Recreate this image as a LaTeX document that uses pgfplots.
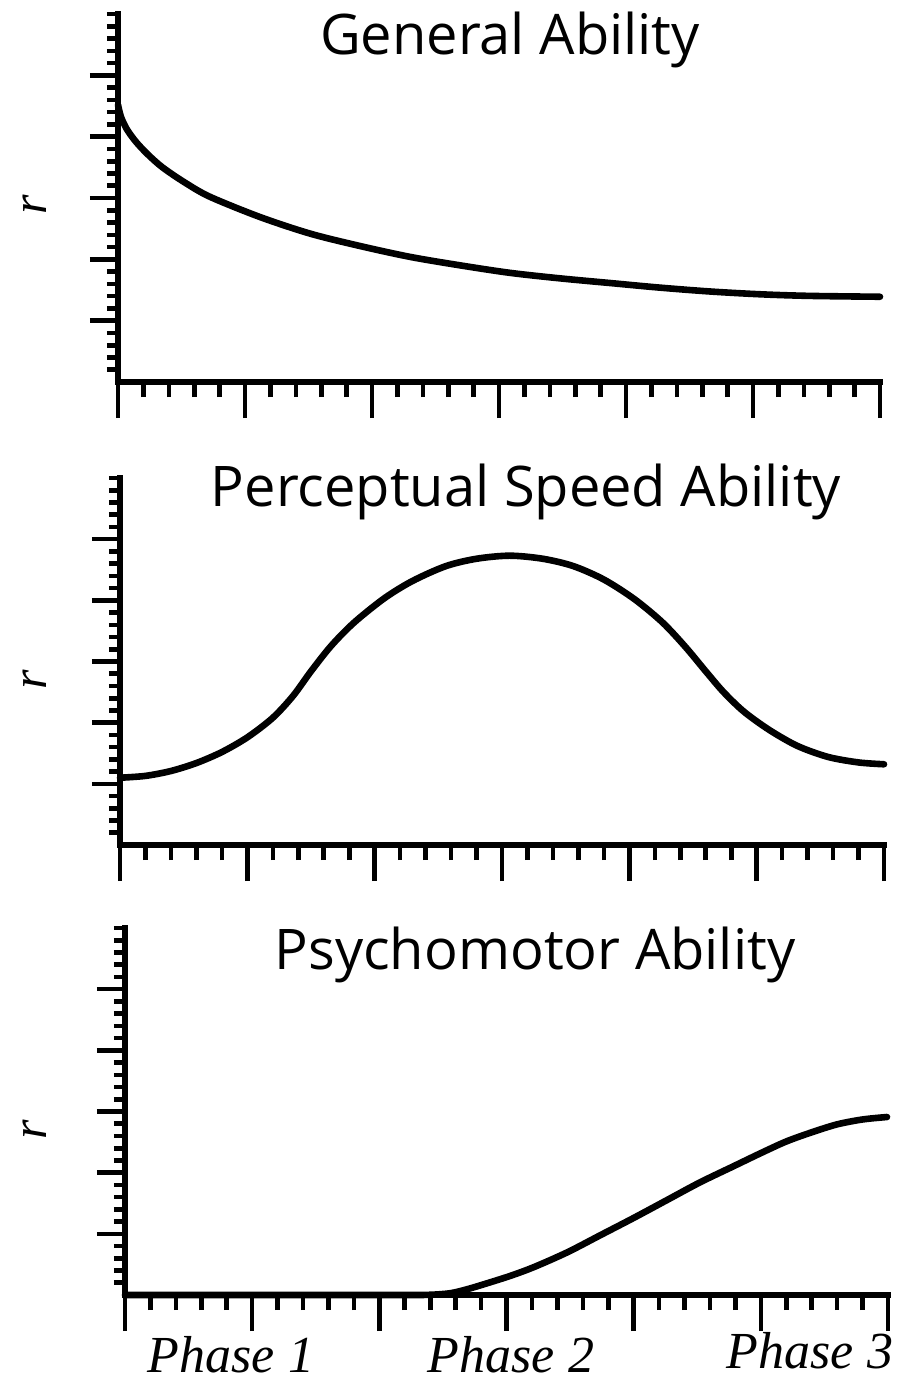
\documentclass[border=0pt]{standalone}
\usepackage{pgfplots}
\pgfplotsset{compat=1.18}
\usepackage{fontspec}
\setmainfont{Open Sans}
\newfontfamily\phasefont{Liberation Serif}

% shared look of the three panels: only left and bottom axis lines,
% outside ticks, no tick labels
\pgfplotsset{
  panel/.style={
    scale only axis,
    anchor=south west,
    axis lines*=left,
    axis line style={line width=2.8pt, line cap=rect},
    xmin=0, xmax=30, ymin=0, ymax=30,
    xtick={0,5,...,30},
    minor xtick={1,...,29},
    ytick={5,10,15,20,25},
    minor ytick={1,...,30},
    xticklabels={}, yticklabels={},
    tick align=outside,
    major tick length=15pt,
    minor tick length=6.5pt,
    every tick/.style={black, line width=2.3pt},
    x tick style={/pgfplots/major tick length=18pt, /pgfplots/minor tick length=7.5pt},
    y tick style={/pgfplots/major tick length=14pt, /pgfplots/minor tick length=5.5pt},
    clip=false,
  },
  curve/.style={black, line width=3.3pt, smooth, line cap=round},
}

\begin{document}
\begin{tikzpicture}
\path[use as bounding box] (0pt,0pt) rectangle (457pt,-693.5pt);

% General Ability
\begin{axis}[panel, at={(59pt,-191pt)}, width=381pt, height=184pt]
\addplot[curve] coordinates {
  (0,22.6) (0.12,21.6) (0.35,20.6) (0.7,19.6) (1.15,18.6) (1.75,17.5)
  (2.64,16.25) (3.62,15.1) (5.59,13.45) (7.56,12.1) (9.5,11.1)
  (11.5,10.2) (13.5,9.5) (15.43,8.9) (17.4,8.45) (19.37,8.07) (21.3,7.7)
  (23.3,7.38) (25.3,7.15) (27.24,7.02) (30,6.95)
};
\end{axis}

% Perceptual Speed Ability
\begin{axis}[panel, at={(60pt,-422.5pt)}, width=382pt, height=183.5pt]
\addplot[curve] coordinates {
  (0,5.5) (1,5.65) (2,6.05) (3,6.7) (4,7.6) (5,8.8) (6,10.4) (6.8,12.2)
  (7.5,14.2) (8.3,16.3) (9.2,18.2) (10.4,20.2) (11.5,21.6) (12.8,22.8)
  (14,23.4) (15.3,23.65) (16.6,23.4) (17.8,22.8) (19,21.7) (20.2,20.1)
  (21.3,18.2) (22.2,16.2) (23.0,14.2) (23.7,12.5) (24.5,10.9) (25.5,9.4)
  (26.6,8.1) (27.8,7.2) (29,6.75) (30,6.6)
};
\end{axis}

% Psychomotor Ability
\begin{axis}[panel, at={(62.5pt,-647.5pt)}, width=381.5pt, height=183.5pt]
\addplot[curve] coordinates {
  (0,0) (6,0) (11,0) (12,0.02) (12.8,0.15) (13.5,0.5) (14.3,1.0)
  (15.2,1.6) (16.1,2.3) (17.4,3.5) (18.7,4.9) (20,6.3) (21.3,7.75)
  (22.6,9.2) (23.9,10.5) (25,11.6) (26,12.55) (27,13.3) (28,13.95)
  (29,14.35) (29.96,14.55)
};
\end{axis}

% panel titles
\node[font=\fontsize{28}{32}\selectfont] at (255pt,-20pt) {General Ability};
\node[font=\fontsize{28}{32}\selectfont] at (263pt,-246pt) {Perceptual Speed Ability};
\node[font=\fontsize{28}{32}\selectfont] at (267.5pt,-477.5pt) {Psychomotor Ability};

% y labels
\foreach \yy in {-102.5,-340,-565}
  \node[rotate=90, font=\phasefont\itshape\fontsize{25}{28}\selectfont] at (17.5pt,\yy pt) {r};

% phase labels
\node[anchor=base, inner sep=0pt, font=\phasefont\itshape\fontsize{26}{30}\selectfont] at (115.5pt,-686pt) {Phase 1};
\node[anchor=base, inner sep=0pt, font=\phasefont\itshape\fontsize{26}{30}\selectfont] at (255.5pt,-686pt) {Phase 2};
\node[anchor=base, inner sep=0pt, font=\phasefont\itshape\fontsize{26}{30}\selectfont] at (405pt,-684pt) {Phase 3};
\end{tikzpicture}
\end{document}
